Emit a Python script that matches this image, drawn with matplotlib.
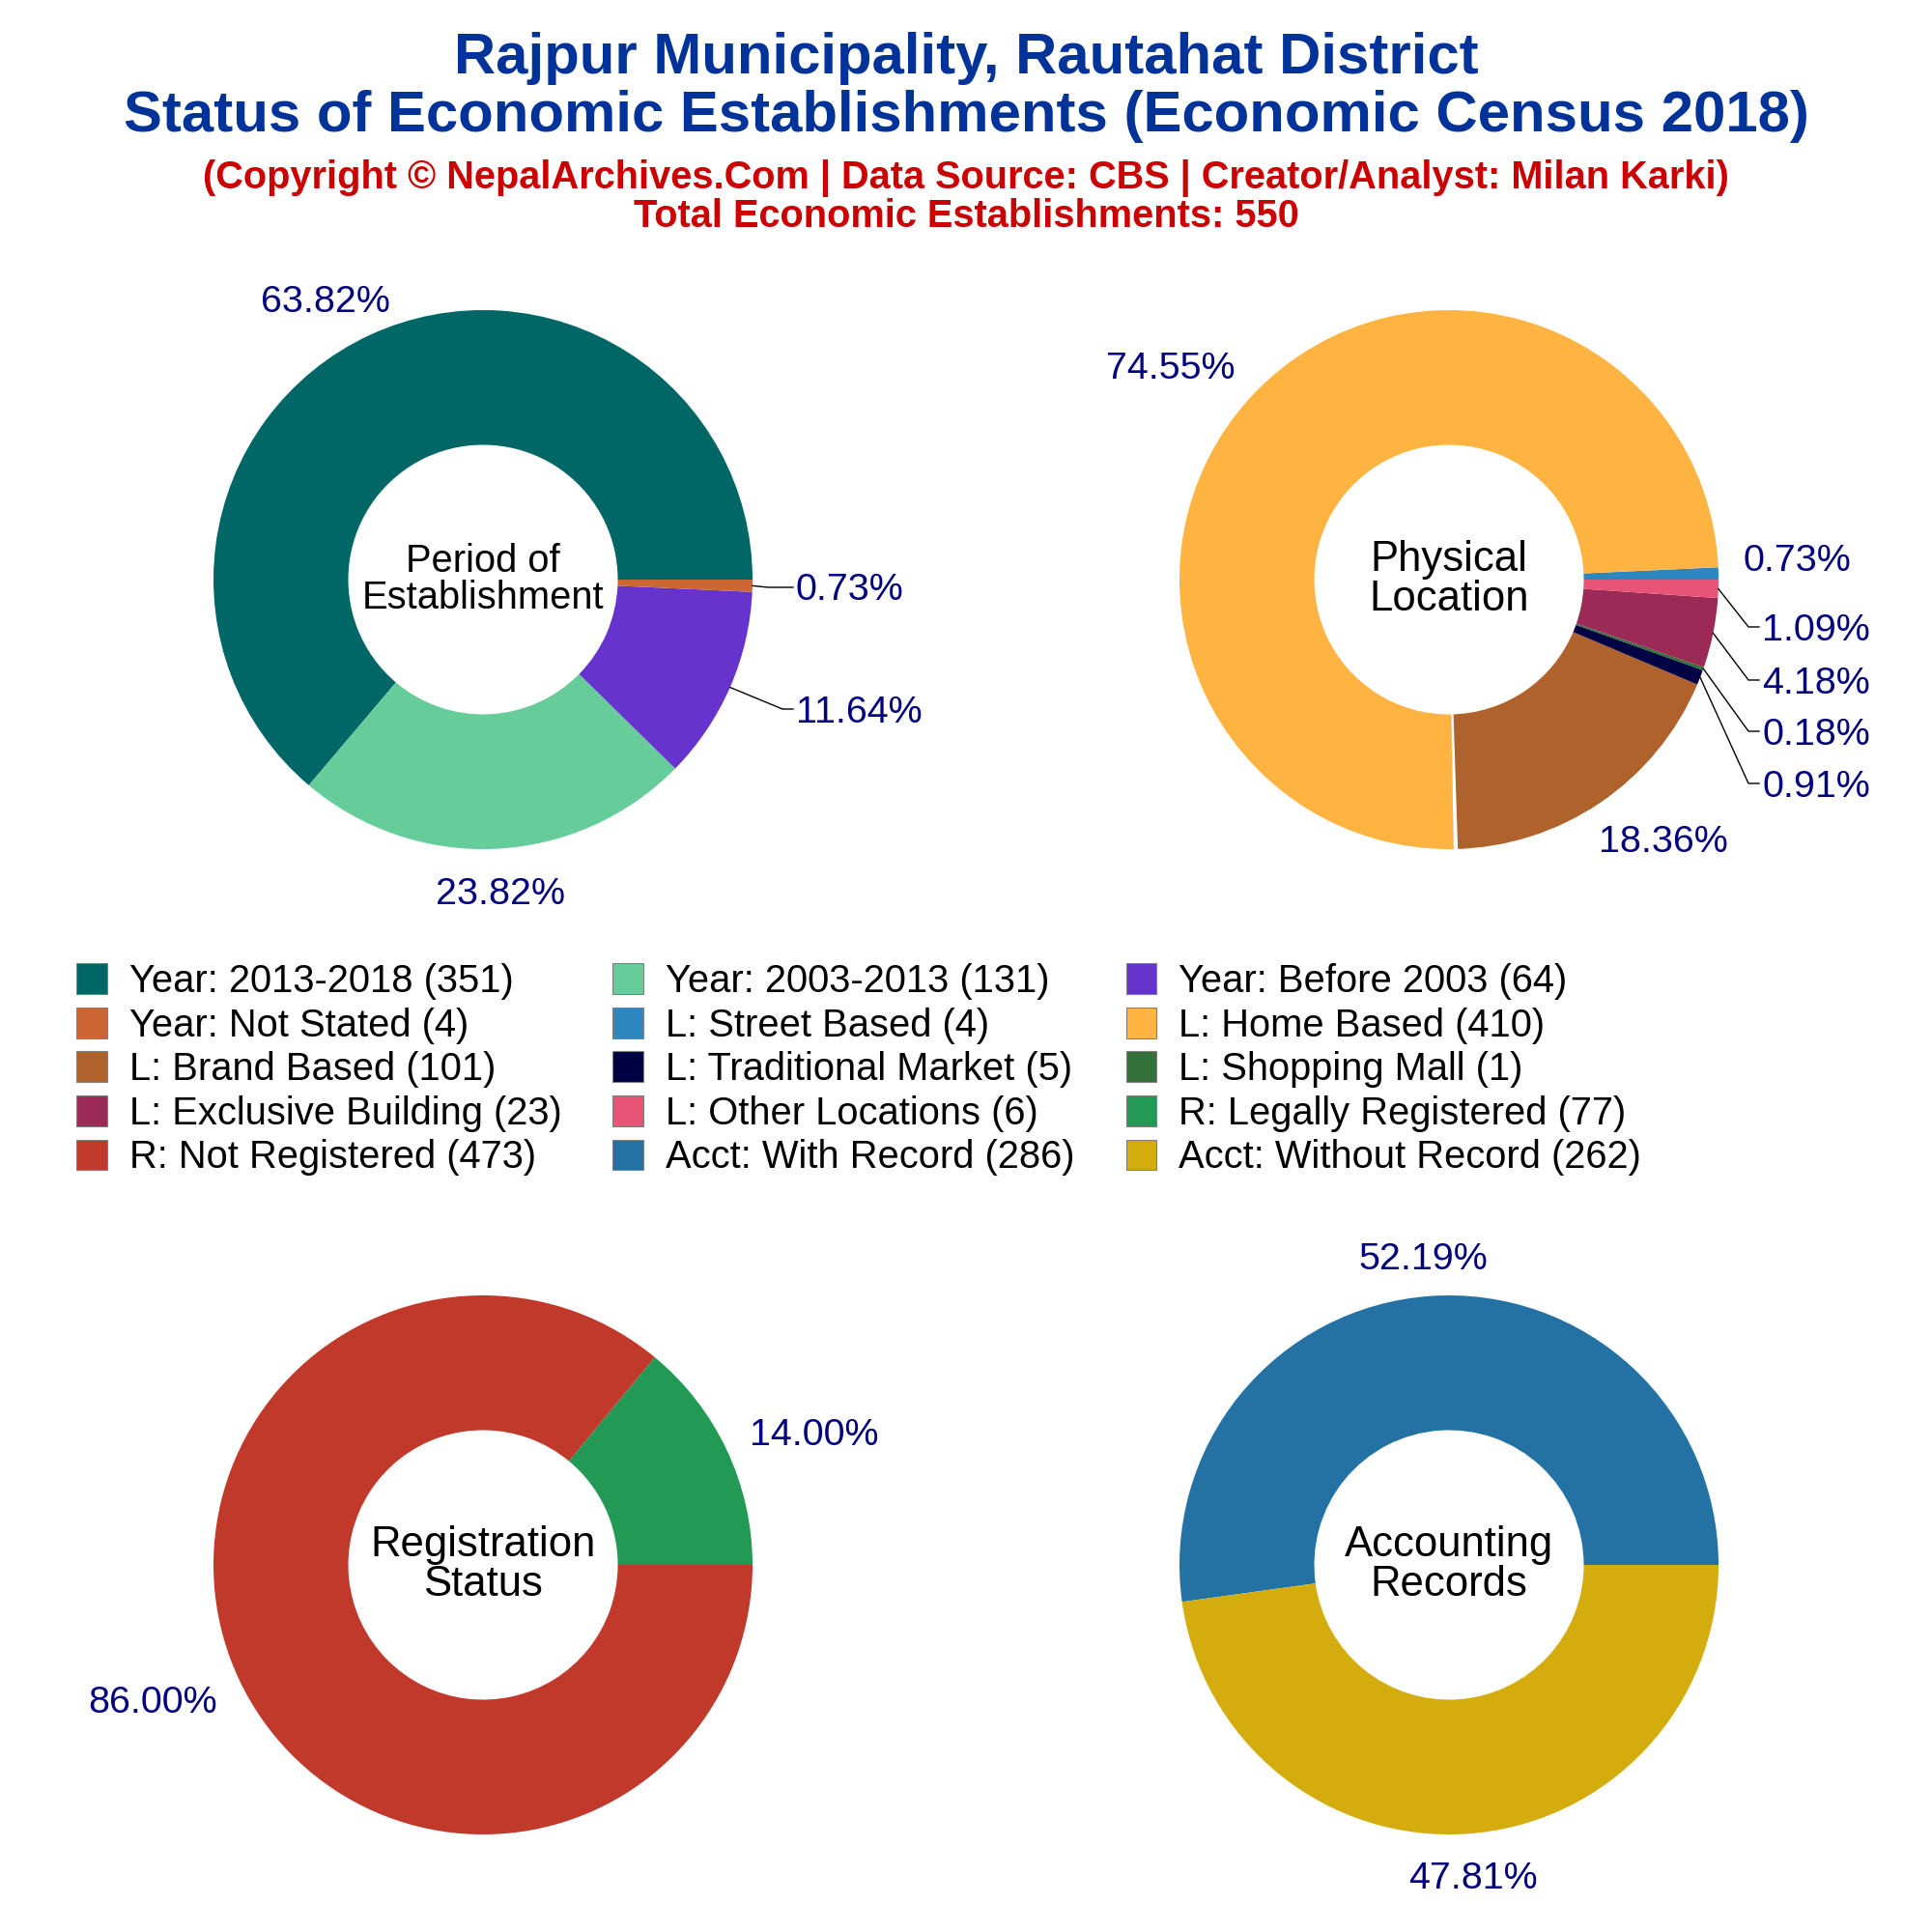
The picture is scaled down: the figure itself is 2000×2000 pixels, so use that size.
import matplotlib
import matplotlib.pyplot as plt
import numpy as np
from matplotlib.patches import Patch, Wedge

matplotlib.use("Agg")

plt.rcParams["font.family"] = ["Liberation Sans", "DejaVu Sans"]

# ---------------------------------------------------------------------------
# Data
# ---------------------------------------------------------------------------
period_labels = ["Year: 2013-2018", "Year: 2003-2013", "Year: Before 2003", "Year: Not Stated"]
period_values = [351, 131, 64, 4]
period_colors = ["#006666", "#66CC99", "#6633CC", "#CC6633"]

location_labels = ["L: Street Based", "L: Home Based", "L: Brand Based", "L: Traditional Market",
                   "L: Shopping Mall", "L: Exclusive Building", "L: Other Locations"]
location_values = [4, 410, 101, 5, 1, 23, 6]
location_colors = ["#2E86C1", "#FFB340", "#B0622C", "#000044", "#33703A", "#9C2A56", "#E75475"]

reg_labels = ["R: Legally Registered", "R: Not Registered"]
reg_values = [77, 473]
reg_colors = ["#229955", "#C0392B"]

acct_labels = ["Acct: With Record", "Acct: Without Record"]
acct_values = [286, 262]
acct_colors = ["#2471A3", "#D4AC0D"]

W = 2000
R = 279
NAVY = "#000080"
LABEL_FS = 14.2
LABEL_DY = 4


def fx(x):
    return x / W


def fy(y):
    return 1 - y / W


def donut(cx, cy, values, colors, center_text, center_fs, label_pos, leaders, gap_after=None):
    ax = fig.add_axes([fx(cx - R), fy(cy + R), 2 * R / W, 2 * R / W], frameon=False)
    ax.pie(values, colors=colors, startangle=0, counterclock=True, radius=1,
           wedgeprops=dict(width=0.5, linewidth=0))
    ax.set_xlim(-1, 1)
    ax.set_ylim(-1, 1)
    ax.text(0, 0, center_text, ha="center", va="center", fontsize=center_fs,
            linespacing=1.03, color="black")

    total = sum(values)
    cum = 0
    for i, val in enumerate(values):
        mid = 2 * np.pi * (cum + val / 2) / total
        cum += val
        txt = f"{100 * val / total:.2f}%"
        x, y, ha = label_pos[i]
        fig.text(fx(x), fy(y + LABEL_DY), txt, ha=ha, va="center", fontsize=LABEL_FS, color=NAVY)
        if i in leaders:
            ex, ey, endx = leaders[i]
            sx, sy = cx + R * np.cos(mid), cy - R * np.sin(mid)
            fig.add_artist(plt.Line2D([fx(sx), fx(ex), fx(endx)], [fy(sy), fy(ey), fy(ey)],
                                      color="black", linewidth=0.5))
        if i == gap_after:
            # the original has a thin white sliver here
            ang = 360 * cum / total
            ax.add_patch(Wedge((0, 0), 1.01, ang, ang + 0.9, width=0.52, facecolor="white", linewidth=0))


fig = plt.figure(figsize=(10, 10), dpi=200, facecolor="white")

donut(500, 600, period_values, period_colors, "Period of\nEstablishment", 14.35,
      {0: (337, 309, "center"), 1: (518, 922, "center"), 2: (955, 734, "right"), 3: (935, 607, "right")},
      {2: (810, 734, 821), 3: (795, 608, 821)})
donut(1500, 600, location_values, location_colors, "Physical\nLocation", 15.7,
      {0: (1916, 577, "right"), 1: (1212, 378, "center"), 2: (1722, 868, "center"), 3: (1936, 811, "right"),
       4: (1936, 757, "right"), 5: (1936, 704, "right"), 6: (1936, 649, "right")},
      {3: (1810, 811, 1821), 4: (1810, 757, 1821), 5: (1810, 704, 1821), 6: (1810, 649, 1821)},
      gap_after=1)
donut(500, 1620, reg_values, reg_colors, "Registration\nStatus", 15.7,
      {0: (843, 1482, "center"), 1: (158, 1759, "center")}, {})
donut(1500, 1620, acct_values, acct_colors, "Accounting\nRecords", 15.7,
      {0: (1473, 1300, "center"), 1: (1525, 1941, "center")}, {})

# ---------------------------------------------------------------------------
# Titles
# ---------------------------------------------------------------------------
fig.text(0.5, fy(60), "Rajpur Municipality, Rautahat District", ha="center", va="center",
         fontsize=21.55, fontweight="bold", color="#003399")
fig.text(0.5, fy(120), "Status of Economic Establishments (Economic Census 2018)", ha="center", va="center",
         fontsize=21.55, fontweight="bold", color="#003399")
fig.text(0.5, fy(185), "(Copyright © NepalArchives.Com | Data Source: CBS | Creator/Analyst: Milan Karki)",
         ha="center", va="center", fontsize=14.3, fontweight="bold", color="#CC0000")
fig.text(0.5, fy(224), f"Total Economic Establishments: {sum(period_values)}",
         ha="center", va="center", fontsize=14.3, fontweight="bold", color="#CC0000")

# ---------------------------------------------------------------------------
# Legend (filled row by row like the original)
# ---------------------------------------------------------------------------
all_labels = period_labels + location_labels + reg_labels + acct_labels
all_values = period_values + location_values + reg_values + acct_values
all_colors = period_colors + location_colors + reg_colors + acct_colors
handles = [Patch(facecolor=c, edgecolor="gray", linewidth=0.4, label=f"{n} ({v})")
           for n, v, c in zip(all_labels, all_values, all_colors)]
ordered = handles[0::3] + handles[1::3] + handles[2::3]
fig.legend(handles=ordered, ncol=3, loc="upper left", bbox_to_anchor=(fx(79), fy(997)),
           frameon=False, fontsize=14.35, handlelength=0.8, handleheight=0.85, handletextpad=0.57,
           labelspacing=0.19, columnspacing=1.33, borderpad=0, borderaxespad=0)

plt.savefig("out.png", dpi=200)
plt.close(fig)
